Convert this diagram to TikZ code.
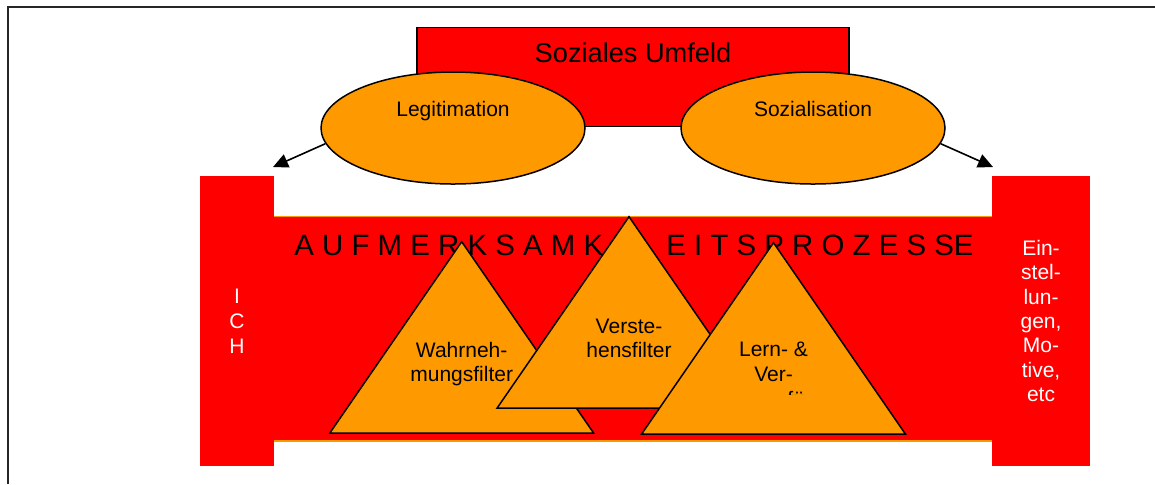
\documentclass[tikz,border=0pt]{standalone}
\usepackage{fontspec}
\setmainfont{Liberation Sans}
\usepackage{xcolor}
\usetikzlibrary{arrows.meta,positioning,calc,shapes.geometric}
\definecolor{umred}{HTML}{FF0000}
\definecolor{umorange}{HTML}{FF9900}

\begin{document}
\begin{tikzpicture}[
  x=0.5pt, y=-0.5pt,
  font=\fontsize{10.5}{12.2}\selectfont,
  ell/.style={draw, ellipse, fill=umorange, line width=0.75pt, minimum width=132pt, minimum height=56pt, inner sep=0pt},
  col/.style={fill=umred, text=white, align=center, minimum height=145pt, inner sep=0pt},
  tri/.style={draw, fill=umorange, line width=0.75pt},
  lbl/.style={anchor=base, inner sep=0pt},
  big/.style={anchor=base west, inner sep=0pt, font=\fontsize{14.7}{17}\selectfont},
  arr/.style={-{Triangle[length=7.5pt,width=7pt]}, line width=0.8pt}
]
  \useasboundingbox (0,0) rectangle (1155,484);
  \draw[line width=1pt, black!85] (8,484) -- (8,7) -- (1155,7);

  % red band with the two columns
  \node[draw=umorange, fill=umred, line width=0.75pt, minimum width=363pt, minimum height=112.15pt, inner sep=0pt] (band) at (633,328.85) {};
  \node[col, minimum width=37pt, font=\fontsize{10.5}{12.5}\selectfont] (ich) at (237,321) {I\\C\\H};
  \node[col, minimum width=49pt] (einst) at (1041,321) {Ein-\\stel-\\lun-\\gen,\\Mo-\\tive,\\etc};

  \node[big] (aufm) at (294,255) {A U F M E R K S A M K};
  \node[big] (prozesse) at (666,255) {E I T S P R O Z E S SE};

  % filters
  \foreach \n/\ax/\ay/\ty/\txt in {wahr/461.7/241.7/363.8/{Wahrneh-\\mungsfilter},
      verst/629/216.7/338.1/{Verste-\\hensfilter},
      lern/773.5/242.7/361.8/{Lern- \&\\Ver-}}{
    \filldraw[tri] (\ax,\ay) -- ++(132,191.5) -- ++(-264,0) -- cycle;
    \node[align=center, inner sep=0pt] (\n) at (\ax,\ty) {\txt};
  }
  \begin{scope}
    \clip (700,380) rectangle (850,394.5);
    \node[lbl, anchor=base west] (lernrest) at (787,406.7) {fü};
  \end{scope}

  % social surroundings
  \node[draw, fill=umred, line width=0.6pt, minimum width=216pt, minimum height=49.5pt, inner sep=0pt] (umfeld) at (633,76.7) {};
  \node[lbl, font=\fontsize{13.6}{16}\selectfont] (umfeldtxt) at (633,62.3) {Soziales Umfeld};

  \node[ell] (legit) at (453,128) {};
  \node[lbl] (legittxt) at (453,116) {Legitimation};
  \node[ell] (sozial) at (813,128) {};
  \node[lbl] (sozialtxt) at (813,116) {Sozialisation};

  \coordinate (tipL) at (273,167);
  \coordinate (tipR) at (993,167);
  \draw[arr] (legit.187) -- (tipL);
  \draw[arr] (sozial.353) -- (tipR);
\end{tikzpicture}
\end{document}
